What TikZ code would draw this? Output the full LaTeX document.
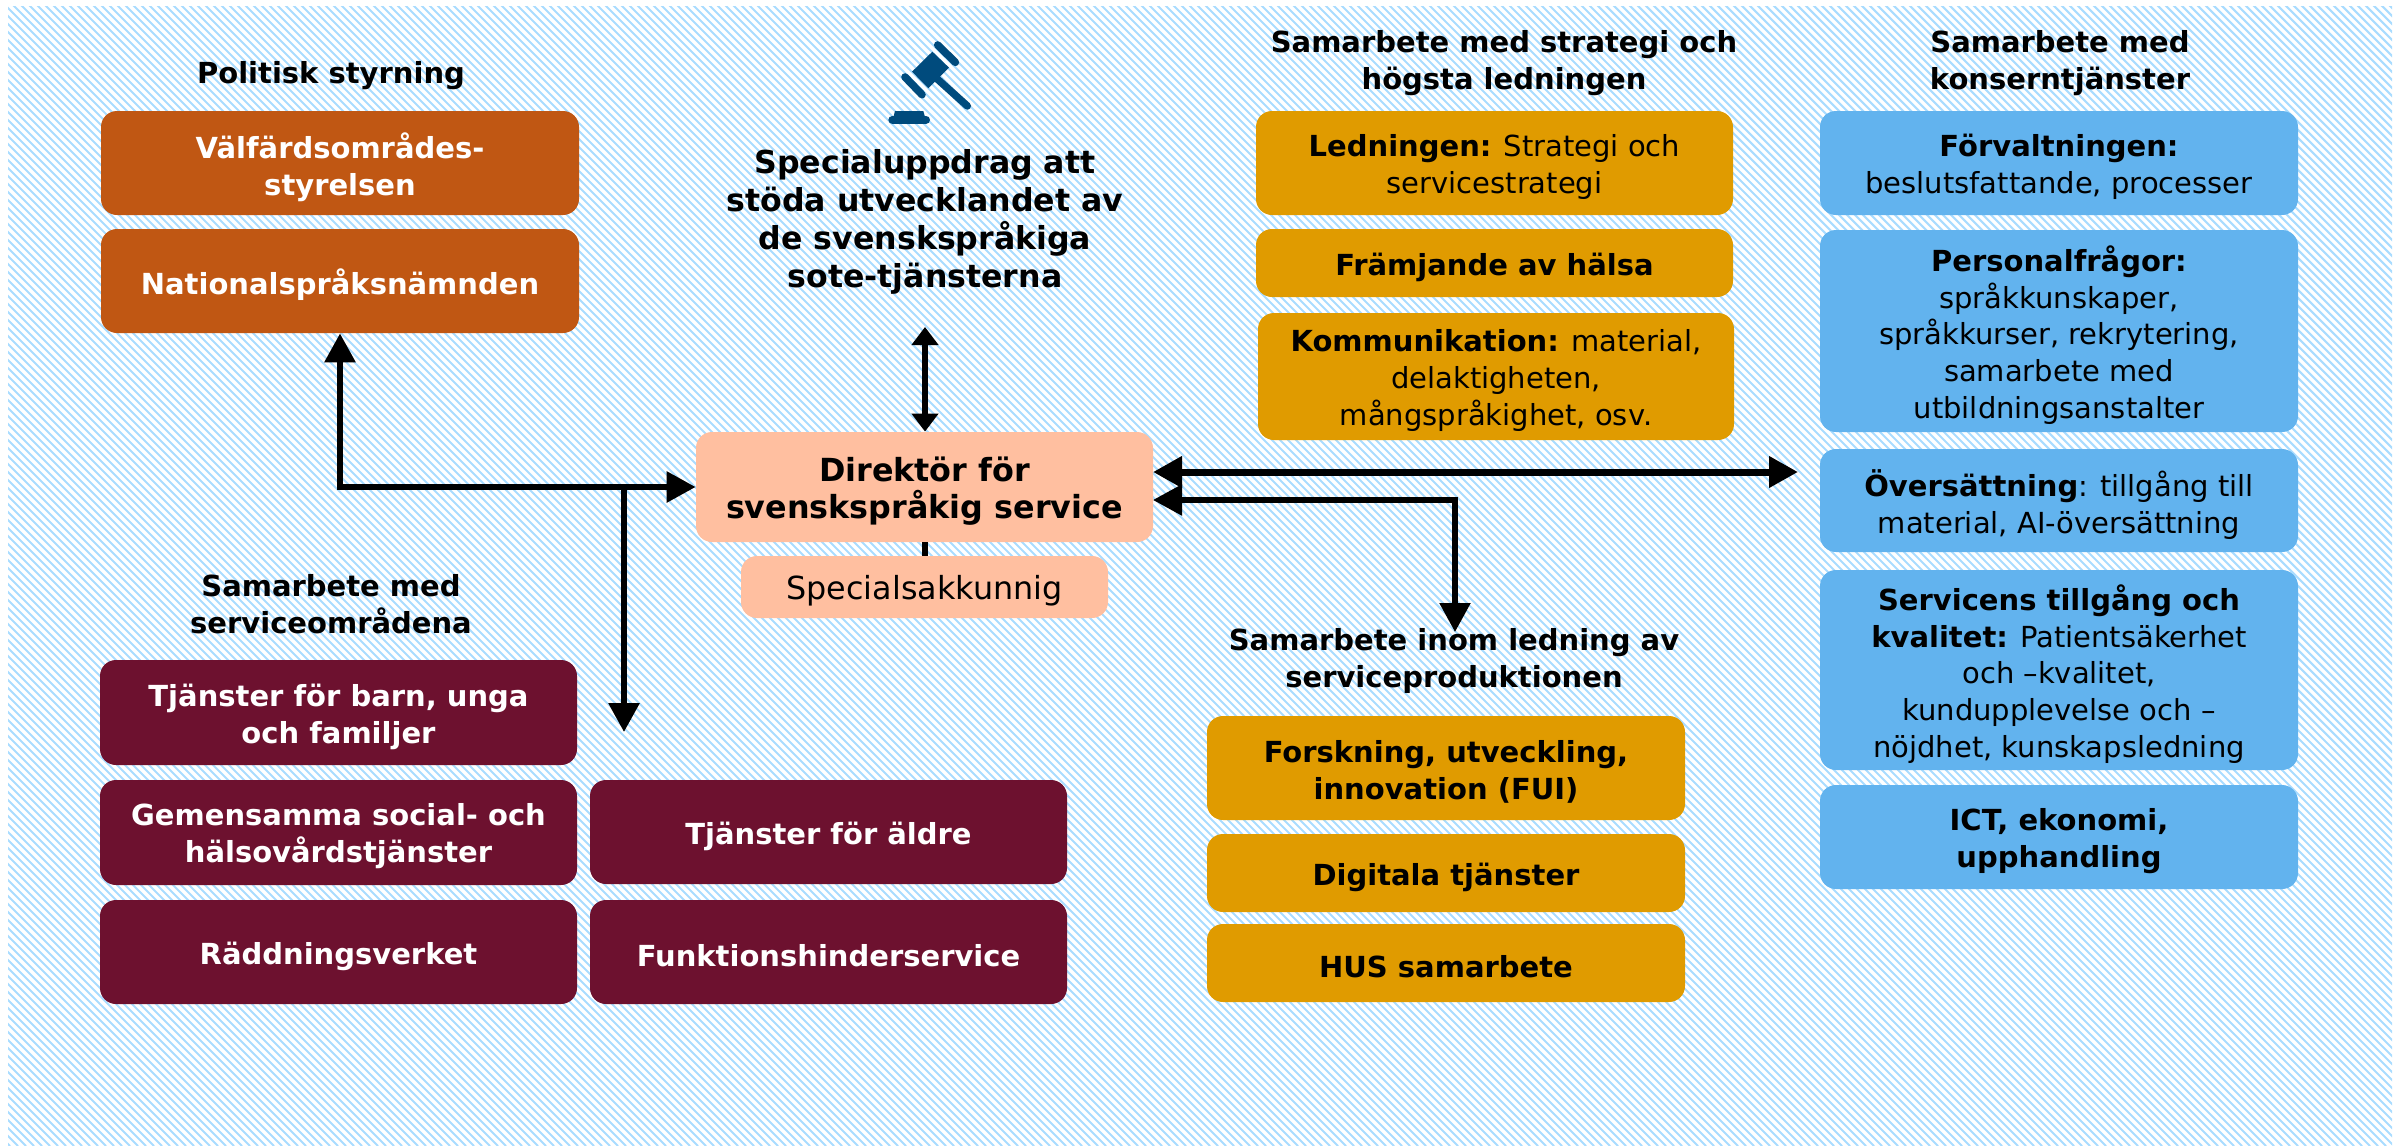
\documentclass[tikz,border=0pt]{standalone}
\usepackage{fontspec}
\setmainfont{DejaVu Sans}
\usetikzlibrary{arrows.meta,calc}
\definecolor{bgline}{HTML}{A9DCFF}
\definecolor{cbrown}{HTML}{C05713}
\definecolor{cmaroon}{HTML}{6D112F}
\definecolor{cgold}{HTML}{E09B00}
\definecolor{cblue}{HTML}{62B3EE}
\definecolor{cpeach}{HTML}{FFBFA0}
\definecolor{cgavel}{HTML}{004B7D}
\tikzset{
  x=0.5pt,y=-0.5pt,
  boxbase/.style={rounded corners=8pt,inner sep=0pt,align=center,
    font=\fontsize{14.5}{18.4}\selectfont},
  brownbox/.style={boxbase,fill=cbrown,text=white,font=\fontsize{14.5}{18.4}\selectfont\bfseries},
  maroonbox/.style={boxbase,fill=cmaroon,text=white,font=\fontsize{14.5}{18.4}\selectfont\bfseries},
  goldbox/.style={boxbase,fill=cgold,text=black},
  bluebox/.style={boxbase,fill=cblue,text=black},
  peachbox/.style={boxbase,fill=cpeach,text=black},
  heading/.style={inner sep=0pt,align=center,font=\fontsize{14.5}{18.4}\selectfont\bfseries},
  bigheading/.style={inner sep=0pt,align=center,font=\fontsize{15.8}{19}\selectfont\bfseries},
  conn/.style={line width=3pt,black},
  connthin/.style={line width=2.7pt,black},
  tiphead/.style={-{Triangle[length=14.5pt,width=15pt]}},
  tiptwo/.style={{Triangle[length=14.5pt,width=15pt]}-{Triangle[length=14.5pt,width=15pt]}},
  tipshort/.style={{Triangle[length=9pt,width=13pt]}-{Triangle[length=9pt,width=13pt]}},
}
\newcommand{\bx}[7]{%
  \pgfmathsetmacro{\bxw}{(#5-#3)*0.5}%
  \pgfmathsetmacro{\bxh}{(#6-#4)*0.5}%
  \node[#2,minimum width=\bxw pt,minimum height=\bxh pt] (#1) at ({(#3+#5)/2},{(#4+#6)/2}) {};%
  \node[#2,fill=none,yshift=-2pt] (#1t) at (#1.center) {#7};}
\begin{document}
\begin{tikzpicture}
\useasboundingbox (0,0) rectangle (2405,1146);
% hatched background
\begin{scope}
\clip (8,6) rectangle (2392,1146);
\foreach \s in {-1144,-1136,...,2400}{
  \draw[bgline,line width=1.05pt] (\s,0) -- (\s+1146,1146);
}
\end{scope}

% headings
\node[heading] (hpol) at (331,76) {Politisk styrning};
\node[heading] (hstr) at (1504,63) {Samarbete med strategi och\\högsta ledningen};
\node[heading] (hkon) at (2060,63) {Samarbete med\\konserntjänster};
\node[heading] (hser) at (331,604) {Samarbete med\\serviceområdena};
\node[heading] (hled) at (1454,661) {Samarbete inom ledning av\\serviceproduktionen};
\node[bigheading] (hspc) at (925,222) {Specialuppdrag att\\stöda utvecklandet av\\de svenskspråkiga\\sote-tjänsterna};

% political
\bx{valf}{brownbox}{101}{111}{579}{215}{Välfärdsområdes-\\styrelsen}
\bx{nat}{brownbox}{101}{229}{579}{333}{Nationalspråksnämnden}

% director
\bx{dir}{peachbox}{696}{432}{1153}{542}{\fontsize{15.9}{19}\selectfont\bfseries Direktör för\\\fontsize{15.9}{19}\selectfont\bfseries svenskspråkig service}
\bx{spec}{peachbox}{741}{556}{1108}{618}{\fontsize{15.9}{19}\selectfont Specialsakkunnig}

% service areas
\bx{barn}{maroonbox}{100}{660}{577}{765}{Tjänster för barn, unga\\och familjer}
\bx{gem}{maroonbox}{100}{780}{577}{885}{Gemensamma social- och\\hälsovårdstjänster}
\bx{radd}{maroonbox}{100}{900}{577}{1004}{Räddningsverket}
\bx{ald}{maroonbox}{590}{780}{1067}{884}{Tjänster för äldre}
\bx{funk}{maroonbox}{590}{900}{1067}{1004}{Funktionshinderservice}

% strategy
\bx{led}{goldbox}{1256}{111}{1733}{215}{\textbf{Ledningen:} Strategi och\\servicestrategi}
\bx{fram}{goldbox}{1256}{229}{1733}{297}{\textbf{Främjande av hälsa}}
\bx{kom}{goldbox}{1258}{313}{1734}{440}{\textbf{Kommunikation:} material,\\delaktigheten,\\mångspråkighet, osv.}

% service production
\bx{fui}{goldbox}{1207}{716}{1685}{820}{\textbf{Forskning, utveckling,}\\\textbf{innovation (FUI)}}
\bx{dig}{goldbox}{1207}{834}{1685}{912}{\textbf{Digitala tjänster}}
\bx{hus}{goldbox}{1207}{924}{1685}{1002}{\textbf{HUS samarbete}}

% corporate services
\bx{forv}{bluebox}{1820}{111}{2298}{215}{\textbf{Förvaltningen:}\\beslutsfattande, processer}
\bx{pers}{bluebox}{1820}{230}{2298}{432}{\textbf{Personalfrågor:}\\språkkunskaper,\\språkkurser, rekrytering,\\samarbete med\\utbildningsanstalter}
\bx{over}{bluebox}{1820}{449}{2298}{552}{\textbf{Översättning}: tillgång till\\material, AI-översättning}
\bx{serv}{bluebox}{1820}{570}{2298}{770}{\textbf{Servicens tillgång och}\\\textbf{kvalitet:} Patientsäkerhet\\och –kvalitet,\\kundupplevelse och –\\nöjdhet, kunskapsledning}
\bx{ict}{bluebox}{1820}{785}{2298}{889}{\textbf{ICT, ekonomi,}\\\textbf{upphandling}}

% connector end points
\coordinate (jn) at (624,487);
\coordinate (dropend) at (624,732);
\coordinate (upend) at (925,327);
\coordinate (rt1) at (1153,472);
\coordinate (rt1end) at (1798,472);
\coordinate (rt2) at (1153,500);
\coordinate (rt2end) at (1455,632);

% connectors
\draw[conn,{Triangle[length=14.5pt,width=15pt]}-{Triangle[length=14.5pt,width=15pt]}] (nat.south) |- (dir.west);
\draw[conn,tiphead] (jn) -- (dropend);
\draw[conn,tipshort] (upend) -- (upend |- dir.north);
\draw[conn] (dir.south) -- (spec.north);
\draw[line width=3.5pt,tiptwo] (rt1) -- (rt1end);
\draw[connthin,tiptwo] (rt2) -| (rt2end);

% gavel icon
\begin{scope}[shift={(850,30)},x=0.1667pt,y=-0.1667pt]
\fill[cgavel] (247,65) -- (297,113) -- (235,175) -- (186,125) -- cycle;
\draw[cgavel,line width=3.8pt,line cap=round] (263,45) -- (316,97);
\draw[cgavel,line width=3.8pt,line cap=round] (165,141) -- (216,194);
\draw[cgavel,line width=3.7pt,line cap=round] (263,148) -- (352,228);
\draw[cgavel,line width=4pt,line cap=round] (127,269) -- (228,269);
\fill[cgavel] (135,243) -- (220,243) -- (225,262) -- (130,262) -- cycle;
\end{scope}
\end{tikzpicture}
\end{document}
